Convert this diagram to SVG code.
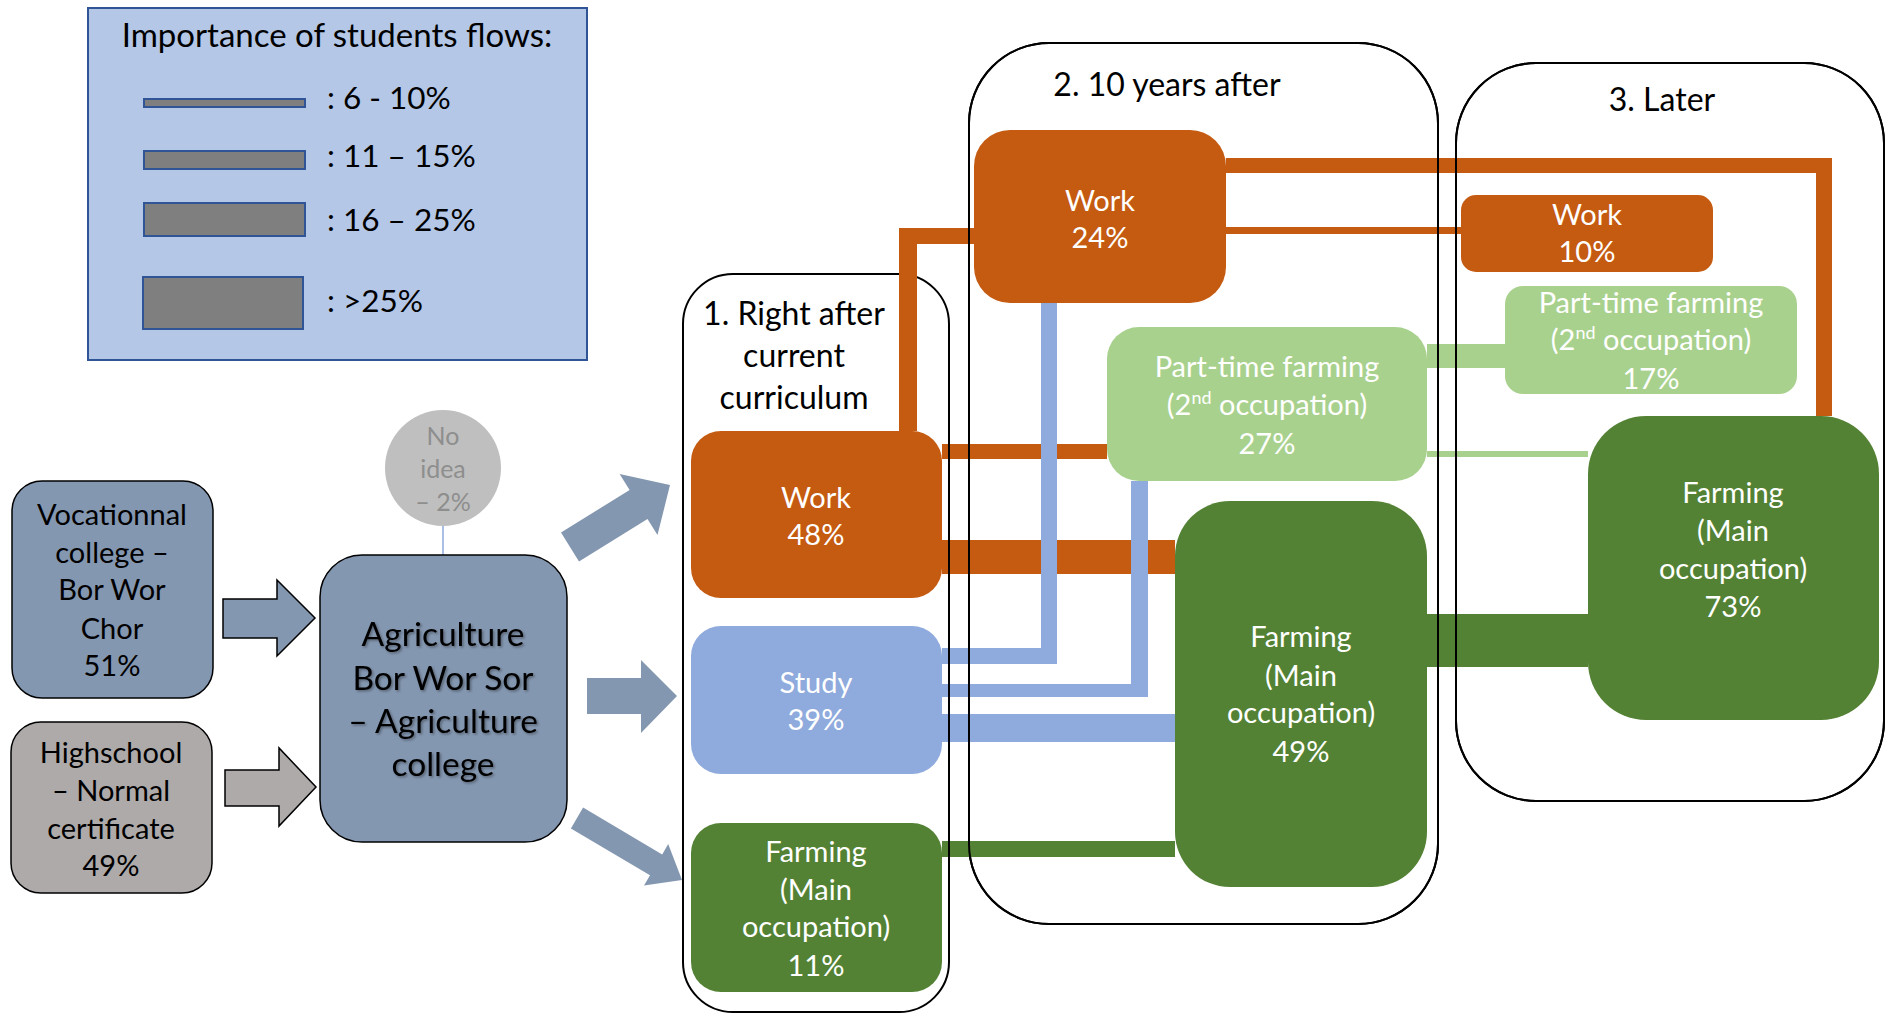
<svg xmlns="http://www.w3.org/2000/svg" width="1887" height="1013" viewBox="0 0 1887 1013">
<defs>
<style>
text{font-family:Lato,"Liberation Sans",sans-serif;text-anchor:middle}
.wt{fill:#FFFFFF;font-size:29px}
.bk{fill:#000000}
.col{fill:#FFFFFF;stroke:#000000;stroke-width:2}
.coll{fill:none;stroke:#000000;stroke-width:2}
.or{fill:#C55A11}
.bl{fill:#8FAADC}
.dg{fill:#548235}
.lg{fill:#A9D18E}
.gb{fill:#8497B0}
.bar{fill:#7F7F7F;stroke:#2F5597;stroke-width:2}
</style>
<filter id="sh" x="-10%" y="-10%" width="120%" height="130%">
<feDropShadow dx="1.5" dy="1.5" stdDeviation="1" flood-color="#000000" flood-opacity="0.35"/>
</filter>
</defs>
<rect width="1887" height="1013" fill="#FFFFFF"/>

<g id="legend">
<rect x="88" y="8" width="499" height="352" fill="#B4C7E7" stroke="#2F5597" stroke-width="2"/>
<text x="337" y="47" class="bk" style="font-size:33px">Importance of students flows:</text>
<rect class="bar" x="144" y="99" width="161" height="8"/>
<rect class="bar" x="144" y="151" width="161" height="18"/>
<rect class="bar" x="144" y="203" width="161" height="33"/>
<rect class="bar" x="143" y="277" width="160" height="52"/>
<g class="bk" style="font-size:31.5px">
<text x="327" y="109" style="text-anchor:start">: 6 - 10%</text>
<text x="327" y="167" style="text-anchor:start">: 11 – 15%</text>
<text x="327" y="231" style="text-anchor:start">: 16 – 25%</text>
<text x="327" y="312" style="text-anchor:start">: &gt;25%</text>
</g>
</g>

<g id="columns">
<rect id="col1" class="col" x="683" y="274" width="266" height="738" rx="50"/>
<rect id="col2" class="col" x="969" y="43" width="469" height="881" rx="80"/>
<rect id="col3" class="col" x="1456" y="63" width="428" height="738" rx="80"/>
<text x="794" y="325" class="bk" style="font-size:32px">1. Right after</text>
<text x="794" y="367" class="bk" style="font-size:32px">current</text>
<text x="794" y="409" class="bk" style="font-size:32px">curriculum</text>
<text x="1167" y="96" class="bk" style="font-size:32px">2. 10 years after</text>
<text x="1662" y="111" class="bk" style="font-size:32px">3. Later</text>
</g>

<g id="connectors">
<line x1="443" y1="526" x2="443" y2="555" stroke="#8FAADC" stroke-width="1.5"/>
<path class="gb" d="M561,532.5 L629.6,490 L619.6,473.9 L670,485 L657.5,535.1 L647.5,519 L579,561.5 Z"/>
<path class="gb" d="M587,678 H641 V660 L677,696 L641,733 V714 H587 Z"/>
<path class="gb" d="M583.1,807.6 L662.2,854.4 L668.2,844.1 L682,880 L644,885.5 L650,875.2 L570.9,828.4 Z"/>
<path class="gb" stroke="#000000" stroke-width="1.5" d="M223,599 H277 V580 L315,618 L277,656 V638 H223 Z"/>
<path fill="#AEAAAA" stroke="#000000" stroke-width="1.5" d="M225,770 H279 V748 L316,787 L279,826 V806 H225 Z"/>
<path class="or" d="M899,431 V228 H974 V244 H917 V431 Z"/>
<rect class="or" x="942" y="444" width="165" height="15"/>
<rect class="or" x="942" y="540" width="233" height="34"/>
<path class="or" d="M1226,158 H1832 V416 H1816 V173 H1226 Z"/>
<rect class="or" x="1226" y="227" width="235" height="7"/>
<path class="bl" d="M942,648 H1041 V303 H1057 V664 H942 Z"/>
<path class="bl" d="M942,684 H1131 V481 H1148 V697 H942 Z"/>
<rect class="bl" x="942" y="714" width="233" height="28"/>
<rect class="lg" x="1427" y="344" width="78" height="24"/>
<rect class="lg" x="1427" y="451" width="161" height="6"/>
<rect class="dg" x="1427" y="614" width="161" height="53"/>
<rect class="dg" x="942" y="841" width="233" height="16"/>
</g>

<g id="column-edges">
<line class="coll" x1="949" y1="330" x2="949" y2="960"/>
<rect class="coll" x="969" y="43" width="469" height="881" rx="80"/>
<rect class="coll" x="1456" y="63" width="428" height="738" rx="80"/>
</g>

<g id="vocational">
<rect x="12" y="481" width="201" height="217" rx="30" fill="#8497B0" stroke="#000000" stroke-width="1.5"/>
<g class="bk" style="font-size:29px">
<text x="112" y="525">Vocationnal</text>
<text x="112" y="563">college –</text>
<text x="112" y="600">Bor Wor</text>
<text x="112" y="639">Chor</text>
<text x="112" y="676">51%</text>
</g>
</g>

<g id="highschool">
<rect x="11" y="722" width="201" height="171" rx="30" fill="#AEAAAA" stroke="#000000" stroke-width="1.5"/>
<g class="bk" style="font-size:29px">
<text x="111" y="763">Highschool</text>
<text x="111" y="801">– Normal</text>
<text x="111" y="839">certificate</text>
<text x="111" y="876">49%</text>
</g>
</g>

<g id="noidea">
<circle cx="443" cy="468" r="58" fill="#BFBFBF"/>
<g style="font-size:25px;fill:#8E8E8E">
<text x="443" y="445">No</text>
<text x="443" y="478">idea</text>
<text x="443" y="511">– 2%</text>
</g>
</g>

<g id="agriculture">
<rect x="320" y="555" width="247" height="287" rx="42" fill="#8497B0" stroke="#000000" stroke-width="1.5"/>
<g class="bk" style="font-size:33.5px" filter="url(#sh)">
<text x="443" y="646">Agriculture</text>
<text x="443" y="690">Bor Wor Sor</text>
<text x="443" y="733">– Agriculture</text>
<text x="443" y="776">college</text>
</g>
</g>

<g id="work48">
<rect class="or" x="691" y="431" width="251" height="167" rx="30"/>
<text class="wt" x="816" y="508">Work</text>
<text class="wt" x="816" y="545">48%</text>
</g>
<g id="study39">
<rect class="bl" x="691" y="626" width="251" height="148" rx="30"/>
<text class="wt" x="816" y="693">Study</text>
<text class="wt" x="816" y="730">39%</text>
</g>
<g id="farming11">
<rect class="dg" x="691" y="823" width="251" height="169" rx="30"/>
<text class="wt" x="816" y="862">Farming</text>
<text class="wt" x="816" y="900">(Main</text>
<text class="wt" x="816" y="937">occupation)</text>
<text class="wt" x="816" y="976">11%</text>
</g>

<g id="work24">
<rect class="or" x="974" y="130" width="252" height="173" rx="36"/>
<text class="wt" x="1100" y="211">Work</text>
<text class="wt" x="1100" y="248">24%</text>
</g>
<g id="parttime27">
<rect class="lg" x="1107" y="327" width="320" height="154" rx="32"/>
<text class="wt" x="1267" y="377">Part-time farming</text>
<text class="wt" x="1267" y="415">(2<tspan baseline-shift="super" style="font-size:18px">nd</tspan> occupation)</text>
<text class="wt" x="1267" y="454">27%</text>
</g>
<g id="farming49">
<rect class="dg" x="1175" y="501" width="252" height="386" rx="55"/>
<text class="wt" x="1301" y="647">Farming</text>
<text class="wt" x="1301" y="686">(Main</text>
<text class="wt" x="1301" y="723">occupation)</text>
<text class="wt" x="1301" y="762">49%</text>
</g>

<g id="work10">
<rect class="or" x="1461" y="195" width="252" height="77" rx="15"/>
<text class="wt" x="1587" y="225">Work</text>
<text class="wt" x="1587" y="262">10%</text>
</g>
<g id="parttime17">
<rect class="lg" x="1505" y="286" width="292" height="108" rx="18"/>
<text class="wt" x="1651" y="313">Part-time farming</text>
<text class="wt" x="1651" y="350">(2<tspan baseline-shift="super" style="font-size:18px">nd</tspan> occupation)</text>
<text class="wt" x="1651" y="389">17%</text>
</g>
<g id="farming73">
<rect class="dg" x="1588" y="416" width="291" height="304" rx="58"/>
<text class="wt" x="1733" y="503">Farming</text>
<text class="wt" x="1733" y="541">(Main</text>
<text class="wt" x="1733" y="579">occupation)</text>
<text class="wt" x="1733" y="617">73%</text>
</g>
</svg>
